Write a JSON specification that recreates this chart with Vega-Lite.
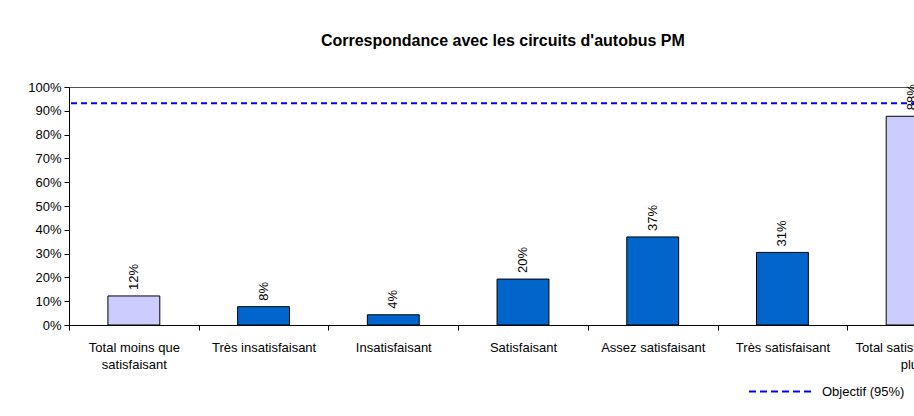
{
  "$schema": "https://vega.github.io/schema/vega-lite/v6.json",
  "autosize": "none",
  "width": 908,
  "height": 238,
  "padding": {"left": 69, "top": 87, "right": -63, "bottom": 91},
  "background": "white",
  "config": {
    "font": "Liberation Sans",
    "view": {"stroke": "#555555", "strokeWidth": 1}
  },
  "title": {
    "text": "Correspondance avec les circuits d'autobus PM",
    "font": "Liberation Sans",
    "fontSize": 16,
    "fontWeight": "bold",
    "color": "black",
    "anchor": "middle",
    "frame": "bounds",
    "offset": 32
  },
  "datasets": {
    "bars": [
      {"categorie": "Total moins que satisfaisant", "valeur": 0.122, "etiquette": "12%", "type": "total"},
      {"categorie": "Très insatisfaisant", "valeur": 0.077, "etiquette": "8%", "type": "detail"},
      {"categorie": "Insatisfaisant", "valeur": 0.043, "etiquette": "4%", "type": "detail"},
      {"categorie": "Satisfaisant", "valeur": 0.193, "etiquette": "20%", "type": "detail"},
      {"categorie": "Assez satisfaisant", "valeur": 0.37, "etiquette": "37%", "type": "detail"},
      {"categorie": "Très satisfaisant", "valeur": 0.305, "etiquette": "31%", "type": "detail"},
      {"categorie": "Total satisfaisant ou plus", "valeur": 0.877, "etiquette": "88%", "type": "total"}
    ],
    "objectif": [
      {"serie": "Objectif (95%)", "valeur": 0.932}
    ]
  },
  "encoding": {
    "y": {
      "field": "valeur",
      "type": "quantitative",
      "scale": {"domain": [0, 1], "nice": false},
      "axis": {
        "title": null,
        "format": ".0%",
        "values": [0, 0.1, 0.2, 0.3, 0.4, 0.5, 0.6, 0.7, 0.8, 0.9, 1],
        "labelOverlap": false,
        "grid": false,
        "tickSize": 5,
        "tickColor": "black",
        "domainColor": "black",
        "labelFont": "Liberation Sans",
        "labelFontSize": 13,
        "labelColor": "black",
        "labelPadding": 3
      }
    }
  },
  "layer": [
    {
      "data": {"name": "bars"},
      "mark": {"type": "bar", "width": {"band": 0.4}, "stroke": "black", "strokeWidth": 1},
      "encoding": {
        "x": {
          "field": "categorie",
          "type": "nominal",
          "sort": null,
          "scale": {"paddingInner": 0, "paddingOuter": 0},
          "axis": {
            "title": null,
            "labelAngle": 0,
            "labelFont": "Liberation Sans",
            "labelFontSize": 13,
            "labelColor": "black",
            "labelLineHeight": 17,
            "labelPadding": 11,
            "labelBaseline": "top",
            "labelLimit": 300,
            "labelOverlap": false,
            "tickBand": "extent",
            "tickSize": 5,
            "tickColor": "black",
            "domainColor": "black",
            "labelExpr": "datum.value == 'Total moins que satisfaisant' ? ['Total moins que', 'satisfaisant'] : datum.value == 'Total satisfaisant ou plus' ? ['Total satisfaisant ou', 'plus'] : datum.value"
          }
        },
        "fill": {
          "field": "type",
          "type": "nominal",
          "scale": {"domain": ["total", "detail"], "range": ["#CCCCFF", "#0066CC"]},
          "legend": null
        }
      }
    },
    {
      "data": {"name": "bars"},
      "mark": {"type": "text", "angle": 270, "align": "left", "baseline": "middle", "dx": 6, "font": "Liberation Sans", "fontSize": 13, "color": "black"},
      "encoding": {
        "x": {"field": "categorie", "type": "nominal", "sort": null},
        "text": {"field": "etiquette"}
      }
    },
    {
      "data": {"name": "objectif"},
      "mark": {"type": "rule", "strokeWidth": 2, "strokeDash": [6, 4]},
      "encoding": {
        "stroke": {
          "field": "serie",
          "type": "nominal",
          "scale": {"range": ["#0000FF"]},
          "legend": {
            "title": null,
            "orient": "none",
            "legendX": 679,
            "legendY": 272,
            "symbolType": "stroke",
            "symbolSize": 3969,
            "symbolStrokeWidth": 2,
            "symbolDash": [7, 4],
            "labelFont": "Liberation Sans",
            "labelFontSize": 13,
            "labelColor": "black",
            "labelOffset": 9,
            "padding": 0
          }
        }
      }
    }
  ]
}
